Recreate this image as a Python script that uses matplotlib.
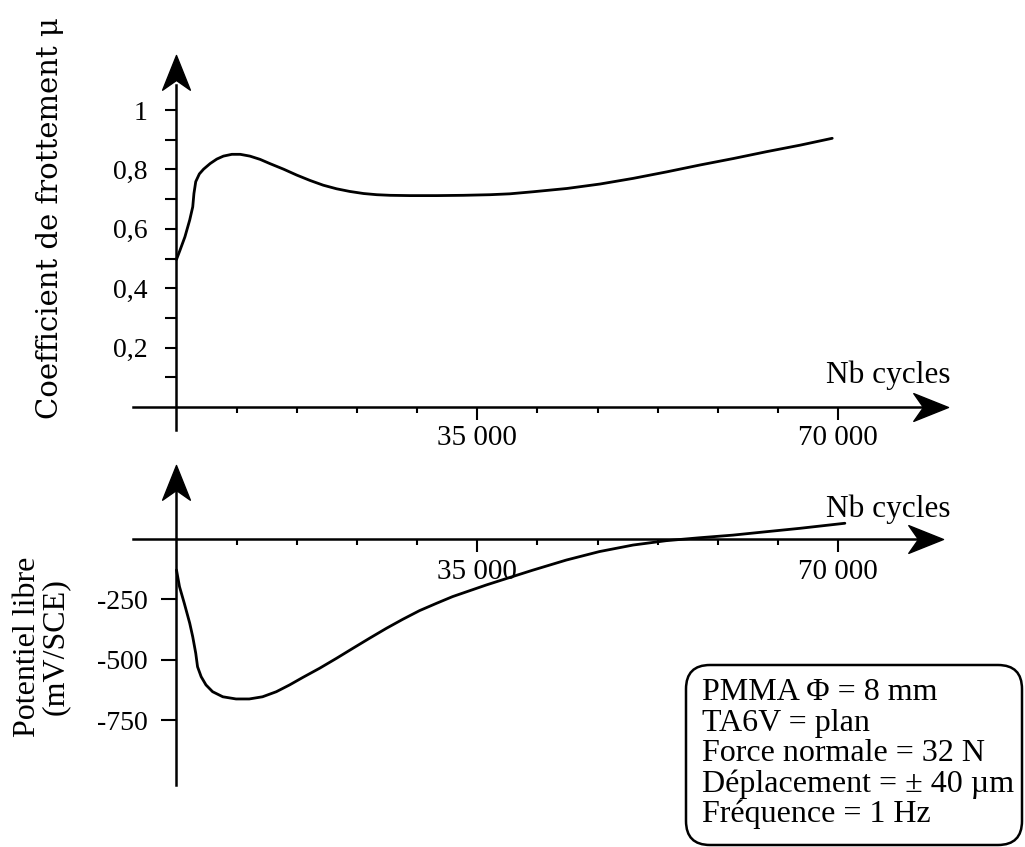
import matplotlib
matplotlib.use("Agg")
import matplotlib.pyplot as plt
from matplotlib.path import Path
from matplotlib.patches import FancyBboxPatch
from matplotlib.transforms import IdentityTransform

plt.rcParams['font.family'] = ['Liberation Serif', 'DejaVu Serif']

# ---- data (x in axis graduations; one graduation between ticks) ----
mu_x = [0.0, 0.06, 0.14, 0.22, 0.27, 0.29, 0.32, 0.38, 0.45, 0.56, 0.67,
        0.78, 0.92, 1.06, 1.22, 1.39, 1.55, 1.78, 2.0, 2.22, 2.44, 2.66,
        2.88, 3.11, 3.33, 3.55, 3.88, 4.33, 4.77, 5.21, 5.54, 5.93, 6.49,
        7.04, 7.59, 8.15, 8.70, 9.26, 9.81, 10.37, 10.90]
mu_y = [0.497, 0.529, 0.573, 0.630, 0.674, 0.719, 0.759, 0.785, 0.801,
        0.820, 0.835, 0.845, 0.851, 0.851, 0.845, 0.834, 0.820, 0.801,
        0.781, 0.763, 0.747, 0.735, 0.726, 0.719, 0.715, 0.713, 0.712,
        0.712, 0.713, 0.715, 0.718, 0.725, 0.736, 0.751, 0.770, 0.792,
        0.815, 0.837, 0.860, 0.882, 0.905]

pot_x = [0.0, 0.05, 0.13, 0.22, 0.27, 0.32, 0.35, 0.41, 0.49, 0.60, 0.77,
         0.99, 1.21, 1.43, 1.66, 1.88, 2.10, 2.38, 2.66, 2.93, 3.21, 3.49,
         3.76, 4.04, 4.32, 4.59, 4.87, 5.15, 5.54, 5.92, 6.48, 7.03, 7.59,
         8.14, 8.69, 9.25, 9.80, 10.36, 11.11]
pot_y = [-130, -199, -268, -350, -406, -474, -530, -571, -605, -633, -654,
         -663, -663, -654, -633, -605, -574, -536, -495, -454, -412, -371,
         -334, -298, -268, -240, -216, -192, -161, -131, -89, -54, -27,
         -9, 3, 14, 28, 42, 63]

x_minor_ticks = [1, 2, 3, 4, 6, 7, 8, 9, 10]
x_major_ticks = [5, 11]
x_major_labels = ["35 000", "70 000"]

mu_ticks = [0.2, 0.4, 0.6, 0.8, 1.0]
mu_labels = ["0,2", "0,4", "0,6", "0,8", "1"]
mu_minor = [0.1, 0.3, 0.5, 0.7, 0.9]

pot_ticks = [-250, -500, -750]
pot_labels = ["-250", "-500", "-750"]

info_lines = ["PMMA \u03a6 = 8 mm", "TA6V = plan", "Force normale = 32 N",
              "D\u00e9placement = \u00b1 40 \u00b5m", "Fr\u00e9quence = 1 Hz"]

W, H = 1025, 847
fig = plt.figure(figsize=(W / 100, H / 100), dpi=100)


def axes_px(left, top, right, bottom):
    return fig.add_axes([left / W, 1 - bottom / H, (right - left) / W,
                         (bottom - top) / H])


# filled arrow heads with a notched base, tip at the marker origin
arrow_right = Path([(0, 0), (-1, 0.4), (-0.72, 0), (-1, -0.4), (0, 0)],
                   [Path.MOVETO, Path.LINETO, Path.LINETO, Path.LINETO,
                    Path.CLOSEPOLY])
arrow_up = Path([(0, 0), (0.4, -1), (0, -0.72), (-0.4, -1), (0, 0)],
                [Path.MOVETO, Path.LINETO, Path.LINETO, Path.LINETO,
                 Path.CLOSEPOLY])

LW = 1.8


def arrow_axes(ax, xlim, ylim, x_start, x_tip, y_start, y_tip, ylen):
    ax.set_xlim(*xlim)
    ax.set_ylim(*ylim)
    ax.patch.set_visible(False)
    for s in ("top", "right"):
        ax.spines[s].set_visible(False)
    ax.spines["left"].set_position(("data", 0))
    ax.spines["bottom"].set_position(("data", 0))
    ax.spines["left"].set_linewidth(LW)
    ax.spines["bottom"].set_linewidth(LW)
    ax.spines["bottom"].set_bounds(x_start, x_tip - 0.3)
    ax.spines["left"].set_bounds(y_start, y_tip - ylen)
    ax.plot([x_tip], [0], marker=arrow_right, ms=50, color="k",
            clip_on=False, zorder=5)
    ax.plot([0], [y_tip], marker=arrow_up, ms=50, color="k",
            clip_on=False, zorder=5)
    ax.set_xticks(x_major_ticks, x_major_labels, fontsize=21)
    ax.set_xticks(x_minor_ticks, minor=True)
    ax.tick_params(axis="x", which="major", direction="out", length=9,
                   width=1.5, pad=4)
    ax.tick_params(axis="x", which="minor", direction="out", length=4.5,
                   width=1.5)


# ---- top: friction coefficient ----
ax1 = axes_px(120, 40, 970, 440)
arrow_axes(ax1, (-0.939, 13.19), (-0.111, 1.236), -0.725, 12.83, -0.077,
           1.185, 0.1)
ax1.set_yticks(mu_ticks, mu_labels, fontsize=20)
ax1.set_yticks(mu_minor, minor=True)
ax1.tick_params(axis="y", which="both", direction="out", length=8,
                width=1.5, pad=13)
ax1.plot(mu_x, mu_y, color="k", lw=2.0, solid_joinstyle="round",
         solid_capstyle="round")

# ---- bottom: free potential ----
ax2 = axes_px(120, 450, 970, 800)
arrow_axes(ax2, (-0.939, 13.19), (-1080.5, 365.7), -0.725, 12.74, -1019,
           304, 100)
ax2.set_yticks(pot_ticks, pot_labels, fontsize=20)
ax2.tick_params(axis="y", which="major", direction="out", length=11,
                width=1.5, pad=10)
ax2.tick_params(axis="x", which="major", pad=6)
ax2.plot(pot_x, pot_y, color="k", lw=2.0, solid_joinstyle="round",
         solid_capstyle="round")


def ftext(x, y, s, **kw):
    fig.text(x / W, 1 - y / H, s, **kw)


ftext(950, 383, "Nb cycles", fontsize=22.5, ha="right", va="baseline")
ftext(950, 517, "Nb cycles", fontsize=22.5, ha="right", va="baseline")

ftext(50, 218, "Coefficient de frottement \u03bc", fontsize=21,
      family="DejaVu Serif", rotation=90, ha="center", va="center")
ftext(41, 647, "Potentiel libre\n(mV/SCE)", fontsize=23, rotation=90,
      ha="center", va="center", multialignment="center", linespacing=0.95)

# parameter box
box = FancyBboxPatch((686, 2), 336, 180,
                     boxstyle="round,pad=0,rounding_size=24",
                     transform=IdentityTransform(), facecolor="white",
                     edgecolor="k", lw=1.8)
fig.patches.append(box)
for i, line in enumerate(info_lines):
    ftext(702, 700 + 30.5 * i, line, fontsize=23, ha="left", va="baseline")

fig.savefig("out.png", dpi=100, facecolor="white")
